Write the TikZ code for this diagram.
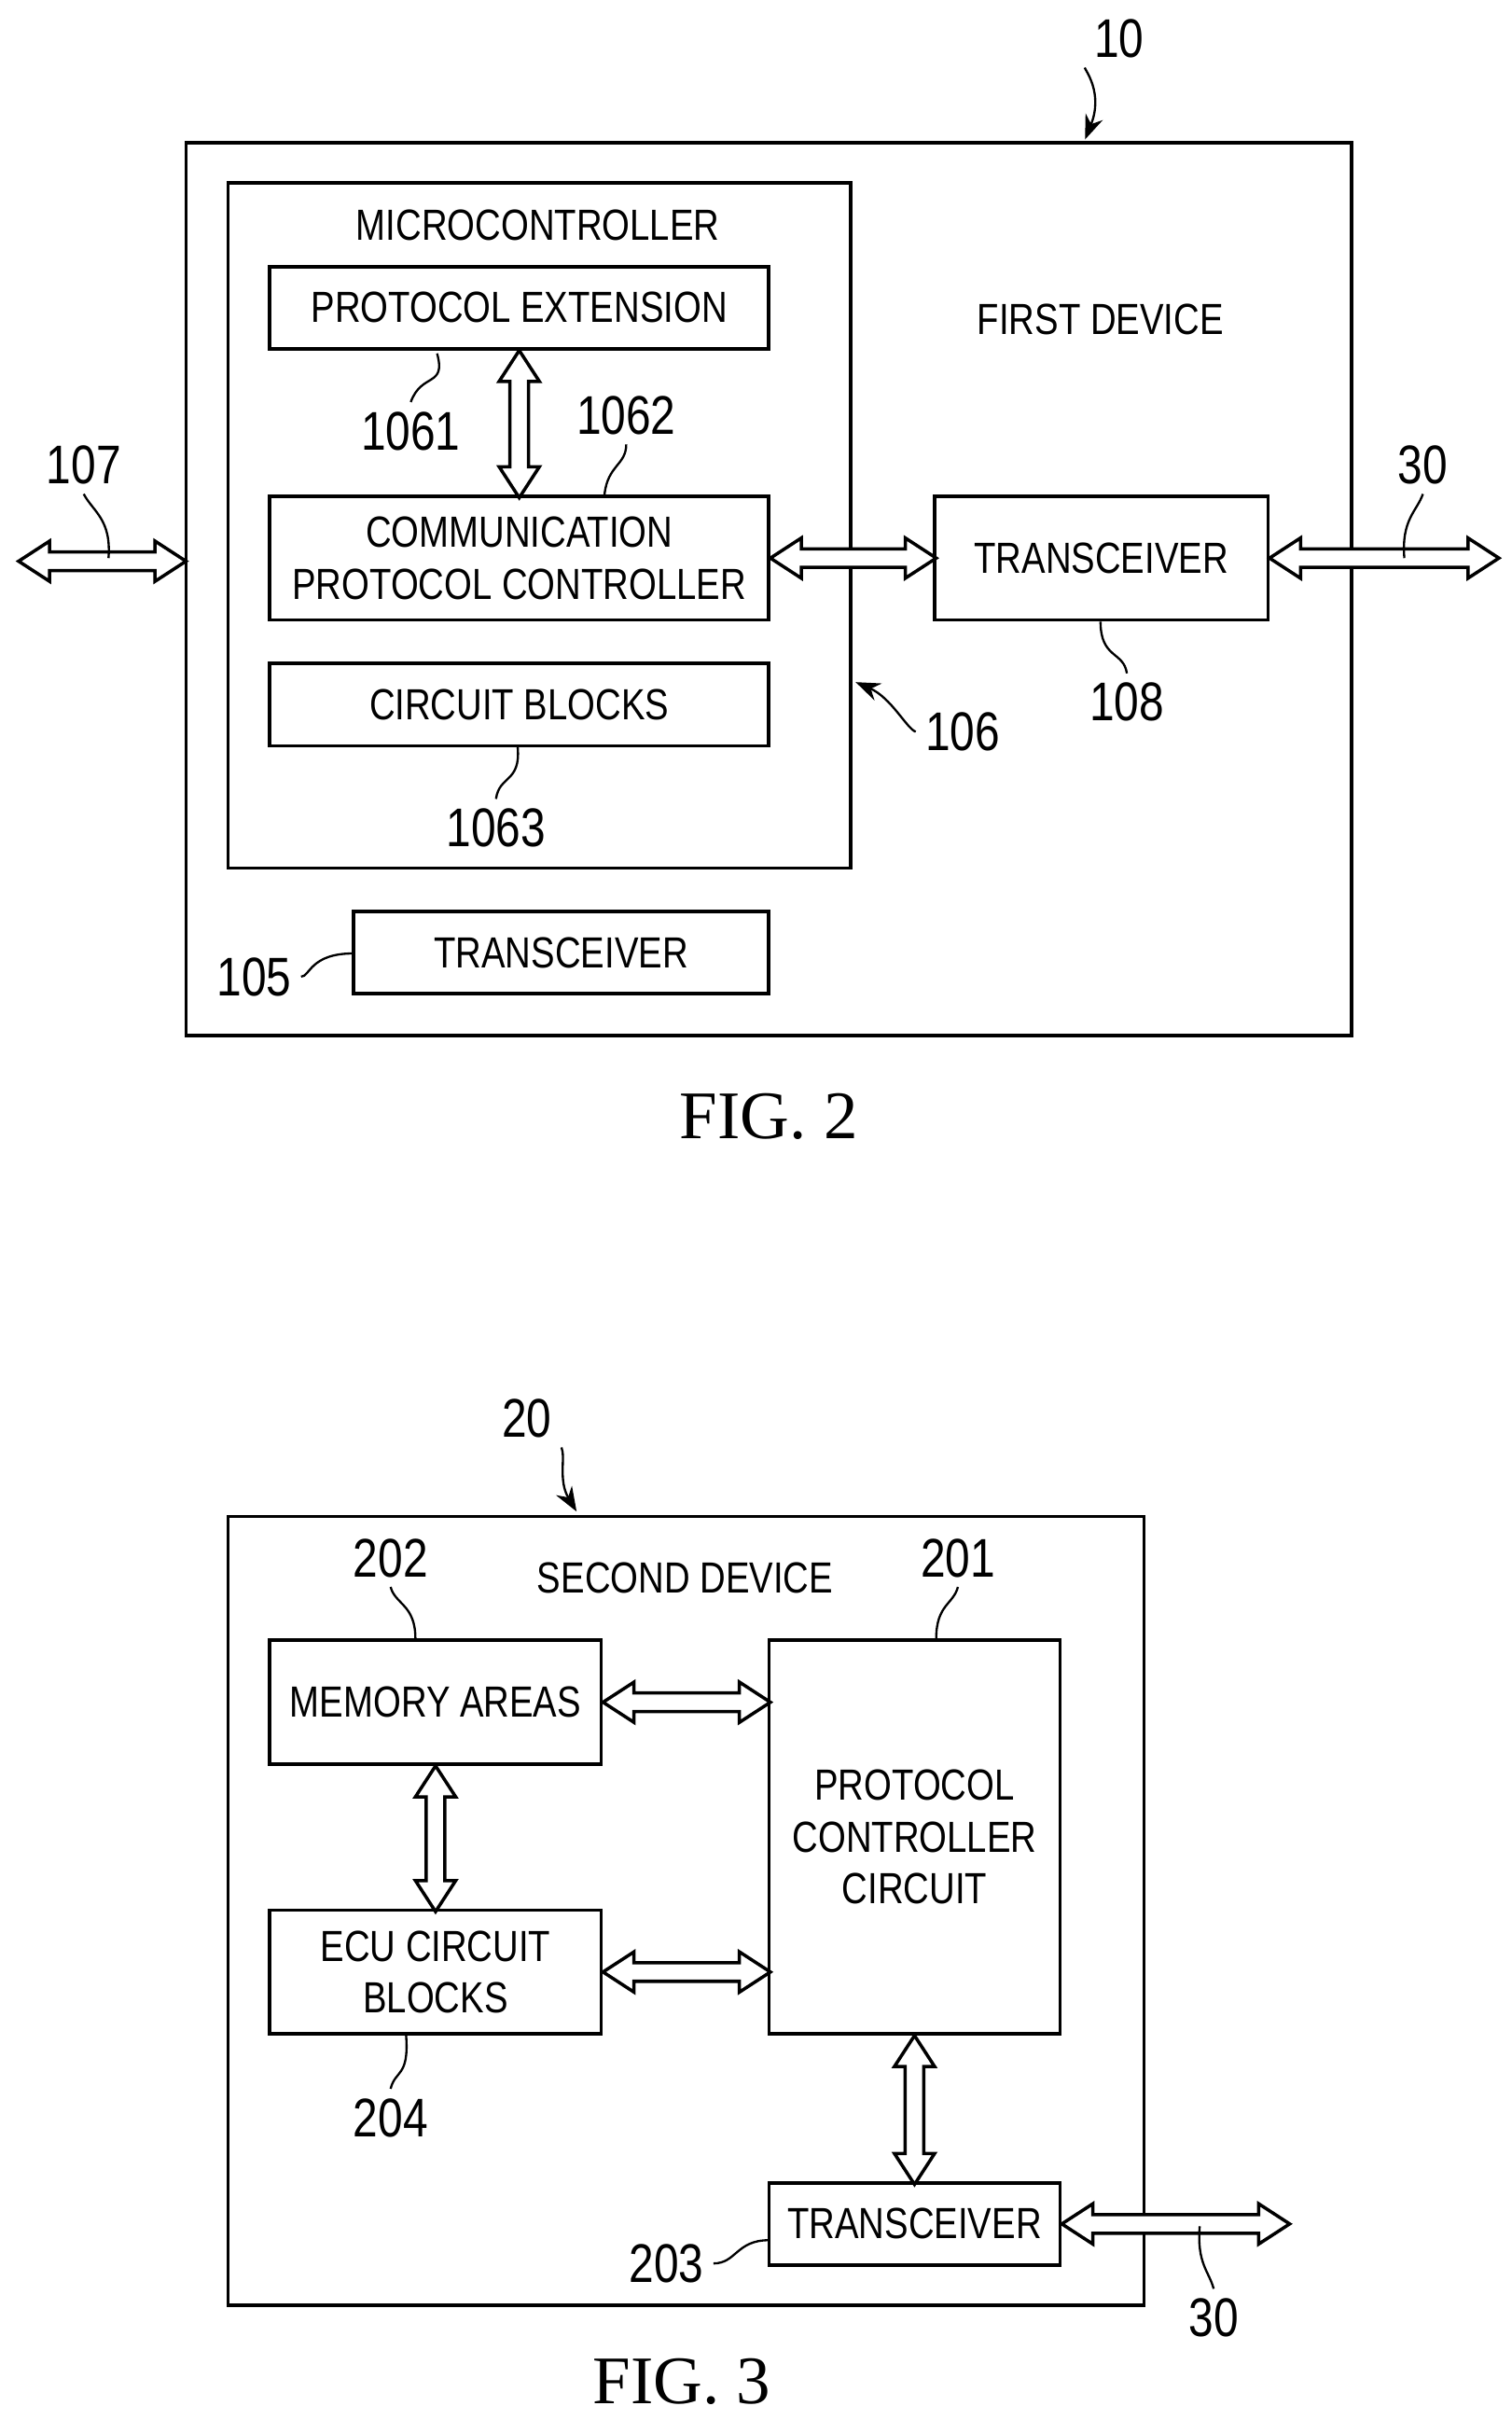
\documentclass[tikz,border=0pt]{standalone}
\usepackage{fontspec}
\setmainfont{Liberation Serif}
\setsansfont{Liberation Sans}[FakeStretch=0.82]
\usetikzlibrary{arrows.meta}

\tikzset{
  box/.style={draw, line width=1.2pt, fill=white, inner sep=0pt, align=center,
    font=\sffamily\fontsize{16}{19}\selectfont},
  txt/.style={font=\sffamily\fontsize{16}{19}\selectfont},
  refnum/.style={font=\sffamily\fontsize{20}{22}\selectfont},
  lead/.style={line width=0.8pt},
  pics/dbl/.style={code={
    \draw[fill=white, line width=1.2pt] (0,0) -- (20,13) -- (20,6) -- (#1-20,6) -- (#1-20,13)
      -- (#1,0) -- (#1-20,-13) -- (#1-20,-6) -- (20,-6) -- (20,-13) -- cycle;
  }}
}

\begin{document}
\begin{tikzpicture}[x=0.02cm, y=-0.02cm]

        \useasboundingbox (0,0) rectangle (975,1561);

        % FIG. 2
        \node[box, minimum width=15.04cm, minimum height=11.52cm] (dev1) at (496,380) {};
        \node[box, minimum width=8.04cm, minimum height=8.84cm] (mcu) at (348,339) {};
        \node[txt] (mcutxt) at (347,145) {MICROCONTROLLER};
        \node[txt] (dev1txt) at (710,206) {FIRST DEVICE};

        \node[box, minimum width=6.44cm, minimum height=1.06cm] (ext) at (335,198.5) {PROTOCOL EXTENSION};
        \node[box, minimum width=6.44cm, minimum height=1.6cm] (cpc) at (335,360) {COMMUNICATION\\PROTOCOL CONTROLLER};
        \node[box, minimum width=6.44cm, minimum height=1.06cm] (cblk) at (335,454.5) {CIRCUIT BLOCKS};
        \node[box, minimum width=5.36cm, minimum height=1.06cm] (trx1) at (362,614.5) {TRANSCEIVER};
        \node[box, minimum width=4.3cm, minimum height=1.6cm] (trx2) at (710.5,360) {TRANSCEIVER};

        \pic at (12,362) {dbl=108};
        \pic at (cpc.east) {dbl=107};
        \pic at (trx2.east) {dbl=148};
        \pic[rotate=-90] at (ext.south) {dbl=95};

        \node[refnum] (n10) at (722,25) {10};
        \draw[lead, -{Stealth[length=9pt]}] (n10.south west) .. controls (700,45) and (712,60) .. (700,90);
        \node[refnum] (n106) at (621,472) {106};
        \draw[lead, -{Stealth[length=9pt]}] (n106.west) .. controls (585,470) and (575,450) .. (552,440);
        \node[refnum] (n1061) at (265,278) {1061};
        \draw[lead] (n1061.north) .. controls (272,240) and (288,250) .. (282,228);
        \node[refnum] (n1062) at (404,268) {1062};
        \draw[lead] (n1062.south) .. controls (404,300) and (392,300) .. (390,319);
        \node[refnum] (n1063) at (320,534) {1063};
        \draw[lead] (n1063.north) .. controls (322,500) and (336,505) .. (334,482);
        \node[refnum] (n108) at (727,453) {108};
        \draw[lead] (n108.north) .. controls (725,420) and (710,425) .. (710,401);
        \node[refnum] (n105) at (164,630) {105};
        \draw[lead] (n105.east) .. controls (200,630) and (200,615) .. (228,615);
        \node[refnum] (n107) at (54,300) {107};
        \draw[lead] (n107.south) .. controls (60,330) and (72,335) .. (70,360);
        \node[refnum] (n30a) at (918,300) {30};
        \draw[lead] (n30a.south) .. controls (914,330) and (904,335) .. (906,360);

        \node[font=\fontsize{25}{28}\selectfont] (fig2) at (496,720) {FIG. 2};

        % FIG. 3
        \node[box, minimum width=11.82cm, minimum height=10.18cm] (dev2) at (442.5,1232.5) {};
        \node[txt] (dev2txt) at (442,1018) {SECOND DEVICE};

        \node[box, minimum width=4.28cm, minimum height=1.6cm] (mem) at (281,1098) {MEMORY AREAS};
        \node[box, minimum width=4.28cm, minimum height=1.6cm] (ecu) at (281,1272) {ECU CIRCUIT\\BLOCKS};
        \node[box, minimum width=3.76cm, minimum height=5.08cm] (pcc) at (590,1185) {PROTOCOL\\CONTROLLER\\CIRCUIT};
        \node[box, minimum width=3.76cm, minimum height=1.06cm] (trx3) at (590,1434.5) {TRANSCEIVER};

        \pic at (mem.east) {dbl=108};
        \pic at (ecu.east) {dbl=108};
        \pic[rotate=-90] at (mem.south) {dbl=94};
        \pic[rotate=-90] at (pcc.south) {dbl=96};
        \pic at (trx3.east) {dbl=147};

        \node[refnum] (n20) at (340,915) {20};
        \draw[lead, -{Stealth[length=9pt]}] (n20.south east) .. controls (365,940) and (360,955) .. (372,975);
        \node[refnum] (n202) at (252,1005) {202};
        \draw[lead] (n202.south) .. controls (255,1035) and (268,1035) .. (268,1057);
        \node[refnum] (n201) at (618,1005) {201};
        \draw[lead] (n201.south) .. controls (615,1035) and (604,1035) .. (604,1057);
        \node[refnum] (n204) at (252,1366) {204};
        \draw[lead] (n204.north) .. controls (255,1335) and (264,1340) .. (262,1313);
        \node[refnum] (n203) at (430,1460) {203};
        \draw[lead] (n203.east) .. controls (475,1460) and (475,1445) .. (496,1445);
        \node[refnum] (n30b) at (783,1495) {30};
        \draw[lead] (n30b.north) .. controls (780,1465) and (772,1460) .. (774,1436);

        \node[font=\fontsize{25}{28}\selectfont] (fig3) at (440,1536) {FIG. 3};

    \end{tikzpicture}
\end{document}
